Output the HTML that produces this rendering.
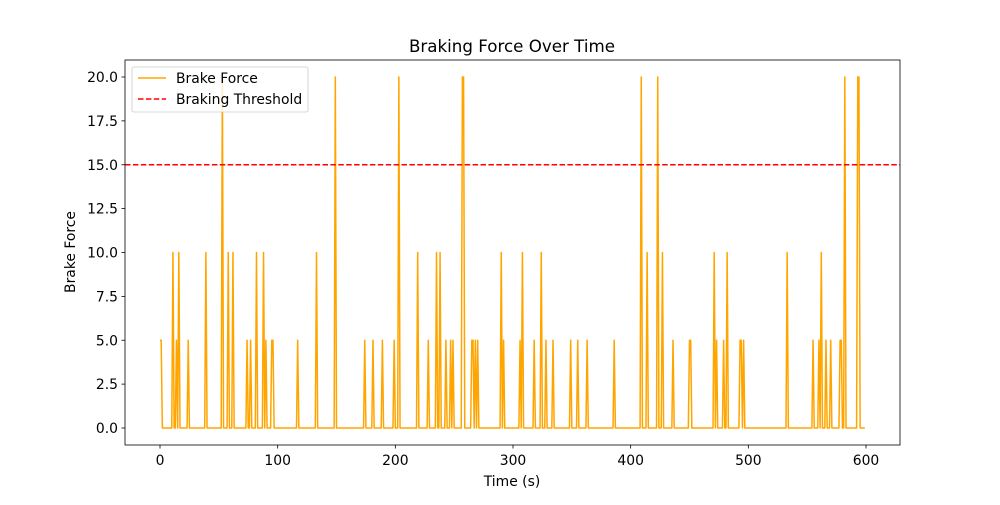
<!DOCTYPE html>
<html><head><meta charset="utf-8"><style>
body{margin:0;background:#fff}
svg text{font-family:"DejaVu Sans","Liberation Sans",sans-serif;fill:#000}
</style></head><body>
<svg id="chart" width="1000" height="500" xmlns="http://www.w3.org/2000/svg">
<rect width="1000" height="500" fill="#fff"/>
<text x="512" y="52" font-size="16.7" text-anchor="middle">Braking Force Over Time</text>
<g id="plot"></g>
<text x="512" y="486" font-size="13.9" text-anchor="middle">Time (s)</text>
<text x="75" y="252" font-size="13.9" text-anchor="middle" transform="rotate(-90 75 252)">Brake Force</text>
</svg>
<script>
const spikeTimes=[0,1,11,14,16,24,39,53,58,62,74,77,82,88,90,95,96,117,133,149,174,181,189,199,203,219,228,235,238,243,247,249,257,258,265,266,268,270,290,292,306,308,318,324,328,334,349,355,363,386,409,414,423,427,436,450,451,471,473,479,482,493,494,496,533,555,560,562,566,570,578,579,582,593,594];
const spikeValues=[5,5,10,5,10,5,10,20,10,10,5,5,10,10,5,5,5,5,10,20,5,5,5,5,20,10,5,10,10,5,5,5,20,20,5,5,5,5,10,5,5,10,5,10,5,5,5,5,5,5,20,10,20,10,5,5,5,10,5,5,10,5,5,5,10,5,5,10,5,5,5,5,20,20,20];
const timeRange=[0,599];
const threshold=15;
const xTicks=[0,100,200,300,400,500,600];
const yTicks=[0,2.5,5,7.5,10,12.5,15,17.5,20];
const L=125,R=900,T=60,B=445;
const xs=t=>160+(t)*(866-160)/600;
const ys=v=>428-v*(428-77)/20;
const NS="http://www.w3.org/2000/svg";
const g=document.getElementById('plot');
function mk(tag,attrs){const e=document.createElementNS(NS,tag);for(const k in attrs)e.setAttribute(k,attrs[k]);g.appendChild(e);return e;}
const vals={};spikeTimes.forEach((t,i)=>vals[t]=spikeValues[i]);
let pts=[];for(let t=timeRange[0];t<=timeRange[1];t++){pts.push(xs(t).toFixed(2)+","+ys(vals[t]||0).toFixed(2));}
const line=mk('polyline',{points:pts.join(' '),fill:'none',stroke:'#ffa500','stroke-width':1.5,'stroke-linejoin':'round'});


const th=mk('line',{x1:L,x2:R,y1:ys(threshold),y2:ys(threshold),stroke:'#ff0000','stroke-width':1.5,'stroke-dasharray':'5.5,2.4'});


const frame=mk('rect',{x:L,y:T,width:R-L,height:B-T,fill:'none',stroke:'#000','stroke-width':0.8});


xTicks.forEach(v=>{const x=xs(v);
const tk=mk('line',{x1:x,x2:x,y1:B,y2:B+3.5,stroke:'#000','stroke-width':0.8});


const tx=mk('text',{x:x,y:B+20,'font-size':13.9,'text-anchor':'middle'});tx.textContent=v;

});
yTicks.forEach(v=>{const y=ys(v);
const tk=mk('line',{x1:L-3.5,x2:L,y1:y,y2:y,stroke:'#000','stroke-width':0.8});


const tx=mk('text',{x:L-7,y:y+5,'font-size':13.9,'text-anchor':'end'});tx.textContent=v.toFixed(1);

});
const lg=mk('rect',{x:132,y:67,width:176,height:45,rx:2,fill:'#fff','fill-opacity':0.8,stroke:'#ccc','stroke-width':0.8});


const l1=mk('line',{x1:138,x2:166,y1:78,y2:78,stroke:'#ffa500','stroke-width':1.5});


const t1=mk('text',{x:176,y:83,'font-size':13.9});t1.textContent='Brake Force';


const l2=mk('line',{x1:138,x2:166,y1:99,y2:99,stroke:'#ff0000','stroke-width':1.5,'stroke-dasharray':'5.5,2.4'});


const t2=mk('text',{x:176,y:104,'font-size':13.9});t2.textContent='Braking Threshold';


</script>
</body></html>
